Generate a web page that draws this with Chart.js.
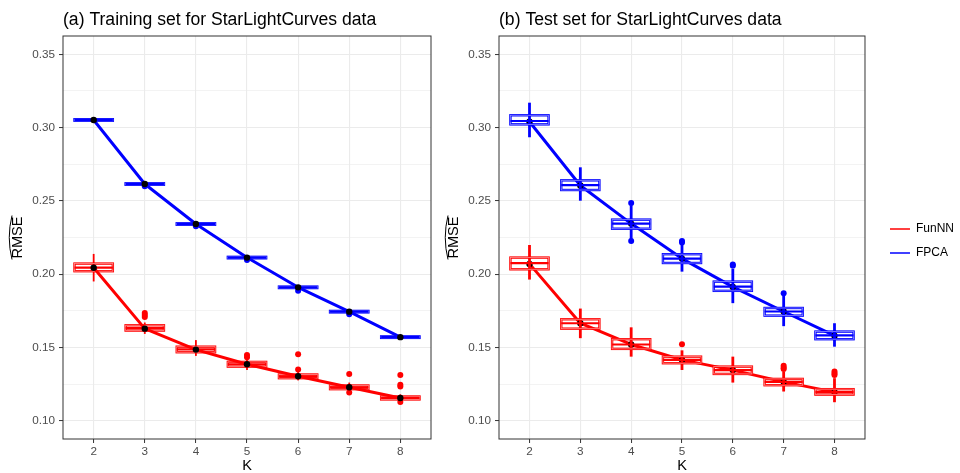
<!DOCTYPE html>
<html>
<head>
<meta charset="utf-8">
<script src="https://cdn.jsdelivr.net/npm/chart.js@4"></script>
<style>
  html, body { margin: 0; padding: 0; background: #fff; overflow: hidden; }
  #wrap { position: relative; width: 960px; height: 473px; }
  canvas { position: absolute; top: 0; }
  #trainChart { left: 0; }
  #testChart { left: 436px; }
</style>
</head>
<body>
<div id="wrap">
  <canvas id="trainChart" width="440" height="473"></canvas>
  <canvas id="testChart" width="528" height="473"></canvas>
</div>
<script>
const kValues = [2, 3, 4, 5, 6, 7, 8];
const methods = ['FunNN', 'FPCA'];
const panelTitles = ['(a) Training set for StarLightCurves data', '(b) Test set for StarLightCurves data'];
const yMajor = [0.10, 0.15, 0.20, 0.25, 0.30, 0.35];
const yMinor = [0.125, 0.175, 0.225, 0.275, 0.325];

// box = [lower whisker, q1, median, q3, upper whisker], one per K
const trainFunMean = [0.2044, 0.1628, 0.1485, 0.1385, 0.1303, 0.1228, 0.1155];
const trainFunBox = [
  [0.1950, 0.2020, 0.2045, 0.2072, 0.2138],
  [0.1592, 0.1615, 0.1632, 0.1651, 0.1670],
  [0.1442, 0.1467, 0.1486, 0.1505, 0.1550],
  [0.1345, 0.1369, 0.1385, 0.1401, 0.1420],
  [0.1275, 0.1290, 0.1302, 0.1315, 0.1335],
  [0.1200, 0.1215, 0.1228, 0.1240, 0.1260],
  [0.1135, 0.1145, 0.1155, 0.1165, 0.1180]
];
const trainFunOut = [[3, 0.1735], [3, 0.1722], [3, 0.1708], [5, 0.1449], [5, 0.1433], [6, 0.1453], [6, 0.1349],
  [7, 0.1319], [7, 0.1192], [8, 0.1312], [8, 0.1246], [8, 0.1234], [8, 0.1128]];

const trainFpcaMean = [0.3052, 0.2615, 0.2342, 0.2113, 0.1910, 0.1744, 0.1570];
const trainFpcaBox = [
  [0.3046, 0.3047, 0.3052, 0.3057, 0.3058],
  [0.2609, 0.2610, 0.2615, 0.2620, 0.2621],
  [0.2336, 0.2337, 0.2342, 0.2347, 0.2348],
  [0.2107, 0.2108, 0.2113, 0.2118, 0.2119],
  [0.1904, 0.1905, 0.1910, 0.1915, 0.1916],
  [0.1738, 0.1739, 0.1744, 0.1749, 0.1750],
  [0.1564, 0.1565, 0.1570, 0.1575, 0.1576]
];
const trainFpcaOut = [[3, 0.2600], [4, 0.2326], [5, 0.2097], [6, 0.1887], [7, 0.1726]];

const testFunMean = [0.2070, 0.1665, 0.1520, 0.1415, 0.1345, 0.1265, 0.1195];
const testFunBox = [
  [0.1963, 0.2033, 0.2075, 0.2113, 0.2199],
  [0.1563, 0.1628, 0.1665, 0.1692, 0.1765],
  [0.1437, 0.1490, 0.1520, 0.1556, 0.1637],
  [0.1346, 0.1392, 0.1415, 0.1437, 0.1480],
  [0.1260, 0.1319, 0.1345, 0.1369, 0.1437],
  [0.1199, 0.1242, 0.1265, 0.1285, 0.1335],
  [0.1126, 0.1178, 0.1195, 0.1215, 0.1290]
];
const testFunOut = [[5, 0.1522], [7, 0.1374], [7, 0.1362], [7, 0.1352], [8, 0.1335], [8, 0.1322], [8, 0.1312]];

const testFpcaMean = [0.3040, 0.2605, 0.2345, 0.2106, 0.1913, 0.1745, 0.1580];
const testFpcaBox = [
  [0.2934, 0.3022, 0.3045, 0.3084, 0.3170],
  [0.2501, 0.2574, 0.2607, 0.2640, 0.2729],
  [0.2235, 0.2310, 0.2345, 0.2372, 0.2470],
  [0.2017, 0.2076, 0.2106, 0.2136, 0.2200],
  [0.1802, 0.1886, 0.1915, 0.1949, 0.2035],
  [0.1645, 0.1717, 0.1745, 0.1769, 0.1855],
  [0.1505, 0.1556, 0.1582, 0.1608, 0.1665]
];
const testFpcaOut = [[4, 0.2486], [4, 0.2226], [5, 0.2226], [5, 0.2216], [6, 0.2066], [6, 0.2057], [7, 0.1870]];

const RED = '#FF0000';
const BLUE = '#0000FF';
const FONT = '"Liberation Sans", Arial, Helvetica, sans-serif';
const BOX_WIDTH = 0.75;

function pairs(ys) {
  return ys.map((v, i) => ({ x: kValues[i], y: v }));
}

function outPoints(list) {
  return list.map(p => ({ x: p[0], y: p[1] }));
}

// boxes, whiskers and the panel border, drawn through the chart's scales
function boxLayer(groups, onTop, whiskerWidth) {
  function drawBoxes(chart) {
    const { ctx, scales: { x, y } } = chart;
    ctx.save();
    groups.forEach(g => {
      g.boxes.forEach((b, i) => {
        const [lo, q1, med, q3, hi] = b;
        const cx = x.getPixelForValue(kValues[i]);
        const half = x.getPixelForValue(kValues[i] + BOX_WIDTH / 2) - cx;
        ctx.strokeStyle = g.color;
        ctx.lineWidth = whiskerWidth;
        ctx.beginPath();
        ctx.moveTo(cx, y.getPixelForValue(lo));
        ctx.lineTo(cx, y.getPixelForValue(hi));
        ctx.stroke();
        const top = y.getPixelForValue(q3);
        const bot = y.getPixelForValue(q1);
        // double-edged outline like the reference
        ctx.lineWidth = 2.4;
        ctx.strokeRect(cx - half, top, 2 * half, bot - top);
        ctx.strokeStyle = 'rgba(255,255,255,0.55)';
        ctx.lineWidth = 0.8;
        ctx.strokeRect(cx - half, top, 2 * half, bot - top);
        ctx.strokeStyle = g.color;
        ctx.lineWidth = 2.2;
        const ym = y.getPixelForValue(med);
        ctx.beginPath();
        ctx.moveTo(cx - half, ym);
        ctx.lineTo(cx + half, ym);
        ctx.stroke();
      });
    });
    ctx.restore();
  }
  return {
    id: 'boxLayer',
    beforeDatasetsDraw(chart) { if (!onTop) drawBoxes(chart); },
    afterDatasetsDraw(chart) {
      if (onTop) drawBoxes(chart);
      const { ctx, chartArea: a } = chart;
      ctx.save();
      ctx.strokeStyle = '#333333';
      ctx.lineWidth = 1;
      ctx.strokeRect(a.left, a.top, a.right - a.left, a.bottom - a.top);
      ctx.restore();
    },
    afterDraw(chart) {
      // the hat over the rotated RMSE title
      const { ctx, chartArea: a } = chart;
      const cy = (a.top + a.bottom) / 2;
      ctx.save();
      ctx.strokeStyle = '#000';
      ctx.lineWidth = 1;
      ctx.beginPath();
      ctx.moveTo(12, cy + 22);
      ctx.quadraticCurveTo(6.5, cy, 12, cy - 22);
      ctx.stroke();
      ctx.restore();
    }
  };
}

function makeChart(id, title, funMean, fpcaMean, funOut, fpcaOut, funBox, fpcaBox, opt) {
  const datasets = [
    { type: 'line', label: methods[0], data: pairs(funMean), borderColor: RED, backgroundColor: RED,
      borderWidth: 3, pointRadius: 0, borderJoinStyle: 'round', order: 1 },
    { type: 'line', label: methods[1], data: pairs(fpcaMean), borderColor: BLUE, backgroundColor: BLUE,
      borderWidth: 3, pointRadius: 0, borderJoinStyle: 'round', order: 1 },
    { type: 'scatter', label: 'out1', data: outPoints(funOut), backgroundColor: RED, borderWidth: 0,
      pointRadius: 3, order: 2 },
    { type: 'scatter', label: 'out2', data: outPoints(fpcaOut), backgroundColor: BLUE, borderWidth: 0,
      pointRadius: 3, order: 2 },
    { type: 'scatter', label: 'mean1', data: pairs(funMean), backgroundColor: '#000', borderWidth: 0,
      pointRadius: 3.2, order: 0 },
    { type: 'scatter', label: 'mean2', data: pairs(fpcaMean), backgroundColor: '#000', borderWidth: 0,
      pointRadius: 3.2, order: 0 }
  ];

  const scales = {
    x: {
      type: 'linear', min: 1.4, max: 8.6,
      afterBuildTicks: s => { s.ticks = kValues.map(v => ({ value: v })); },
      afterFit: s => { s.height = 34; },
      ticks: { color: '#4D4D4D', font: { family: FONT, size: 11.7 }, padding: 2,
        callback: v => String(v) },
      grid: { color: '#EBEBEB', lineWidth: 1.1, tickLength: 4, tickColor: '#333333', tickWidth: 1 },
      border: { display: false },
      title: { display: true, text: 'K', color: '#000', font: { family: FONT, size: 14.6, lineHeight: 1 },
        padding: { top: 0, bottom: 0 } }
    },
    y: {
      type: 'linear', min: 0.0875, max: 0.3625,
      afterBuildTicks: s => {
        s.ticks = yMajor.concat(yMinor).sort((p, q) => p - q)
          .map(v => ({ value: v, minor: yMinor.includes(v) }));
      },
      afterFit: s => { s.width = 63; },
      ticks: { color: '#4D4D4D', font: { family: FONT, size: 11.7 }, padding: 4,
        callback: v => yMajor.some(m => Math.abs(m - v) < 1e-9) ? v.toFixed(2) : '' },
      grid: {
        color: '#EBEBEB',
        lineWidth: c => (c.tick && c.tick.minor) ? 0.6 : 1.1,
        tickLength: 4,
        tickColor: c => (c.tick && c.tick.minor) ? 'rgba(0,0,0,0)' : '#333333',
        tickWidth: 1
      },
      border: { display: false },
      title: { display: true, text: 'RMSE', color: '#000', font: { family: FONT, size: 14.6, lineHeight: 1 },
        padding: { top: 10.7, bottom: 0 } }
    }
  };
  if (opt.legend) {
    scales.gap = {
      type: 'linear', position: 'right', display: true,
      grid: { display: false }, border: { display: false }, ticks: { display: false },
      afterFit: s => { s.width = 13; }
    };
  }

  return new Chart(document.getElementById(id), {
    data: { datasets },
    plugins: [boxLayer([{ boxes: funBox, color: RED }, { boxes: fpcaBox, color: BLUE }], opt.onTop, opt.whisker)],
    options: {
      responsive: false,
      animation: false,
      layout: { padding: { left: 0, right: opt.padRight, top: 9, bottom: 0 } },
      scales,
      plugins: {
        title: {
          display: true, text: title, align: 'start', fullSize: false, color: '#000',
          font: { family: FONT, size: 17.6, weight: 'normal', lineHeight: 1 },
          padding: { top: 2, bottom: 7.4 }
        },
        legend: {
          display: !!opt.legend,
          position: 'right',
          labels: {
            color: '#000',
            font: { family: FONT, size: 12 },
            usePointStyle: true,
            pointStyle: 'line',
            pointStyleWidth: 20,
            padding: 12,
            generateLabels: chart => Chart.defaults.plugins.legend.labels.generateLabels(chart)
              .filter(l => l.datasetIndex < 2)
              .map(l => Object.assign(l, { lineWidth: 1.5 }))
          }
        },
        tooltip: { enabled: false }
      }
    }
  });
}

makeChart('trainChart', panelTitles[0], trainFunMean, trainFpcaMean, trainFunOut, trainFpcaOut,
  trainFunBox, trainFpcaBox, { onTop: false, whisker: 1.8, padRight: 9, legend: false });
makeChart('testChart', panelTitles[1], testFunMean, testFpcaMean, testFunOut, testFpcaOut,
  testFunBox, testFpcaBox, { onTop: true, whisker: 2.8, padRight: 0, legend: true });
</script>
</body>
</html>
